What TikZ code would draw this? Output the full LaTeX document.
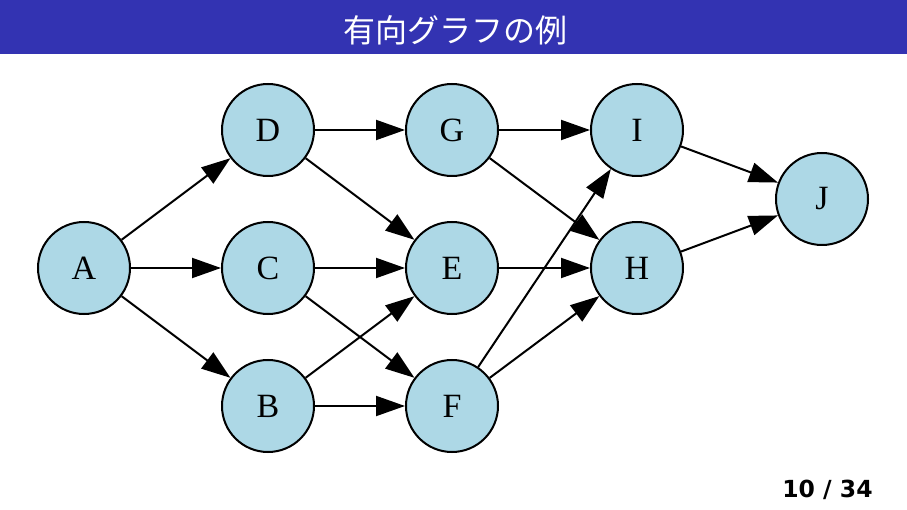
\documentclass[tikz,border=0pt]{standalone}
\usepackage{xcolor}
\usepackage{fontspec}
\setmainfont{Liberation Serif}
\newfontfamily\jpfont{Noto Sans CJK JP}
\newfontfamily\pagefont{DejaVu Sans}
\usepackage{tikz}
\usetikzlibrary{arrows.meta}
\usetikzlibrary{calc}
\usetikzlibrary{positioning}
\definecolor{titleblue}{rgb}{0.2,0.2,0.7}
\definecolor{vertblue}{HTML}{ADD8E6}

\begin{document}
\begin{tikzpicture}[-{Triangle[length=29pt,width=20pt]},shorten >=0pt,auto,node distance=184pt,
                    line width=2pt]
 				 \tikzstyle{vert}=[draw, circle, minimum size=92pt, inner sep=0pt, fill=vertblue,
 				                   font=\fontsize{34}{34}\selectfont]
 				 \useasboundingbox (0,0) rectangle (907pt,-510pt);
 				 \fill[titleblue] (0,0) rectangle (907pt,-54pt);
 				 \node[text=white, font=\jpfont\fontsize{32}{32}\selectfont] (title) at (455pt,-30pt) {有向グラフの例};
 				 \node[font=\pagefont\bfseries\fontsize{23.5}{23.5}\selectfont] (page) at (827.5pt,-490pt) {10 / 34};
 					 \node[vert] (A) at (84pt,-268pt) {A};
  					 \node[vert]         (C) [right of=A] {C};
  					 \node[vert]         (D) [above of=C, node distance=138pt] {D};
  					 \node[vert]         (B) [below of=C, node distance=138pt] {B};
  					 \node[vert]         (G) [right of=D] {G};
  					 \node[vert]         (E) [right of=C] {E};
  					 \node[vert]         (F) [right of=B] {F};
  					 \node[vert]         (I) [right of=G, node distance=185pt] {I};
  					 \node[vert]         (H) [right of=E, node distance=185pt] {H};
  					 \node[vert]         (J) at ($(I)!0.5!(H)+(185pt,0)$) {J};
 					 \path (A) edge (D)
 					 		 	(A) edge (C)
 					 			(A) edge (B)
 					 			(D) edge (G)
 					 			(D) edge (E)
 					 			(C) edge (E)
 					 			(C) edge (F)
 					 			(B) edge (E)
 					 			(B) edge (F)
 					 			(G) edge (I)
 					 			(G) edge (H)
 					 			(E) edge (H)
 					 			(F) edge (I)
 					 			(F) edge (H)
 					 			(I) edge (J)
 					 			(H) edge (J);
				\end{tikzpicture}
\end{document}
